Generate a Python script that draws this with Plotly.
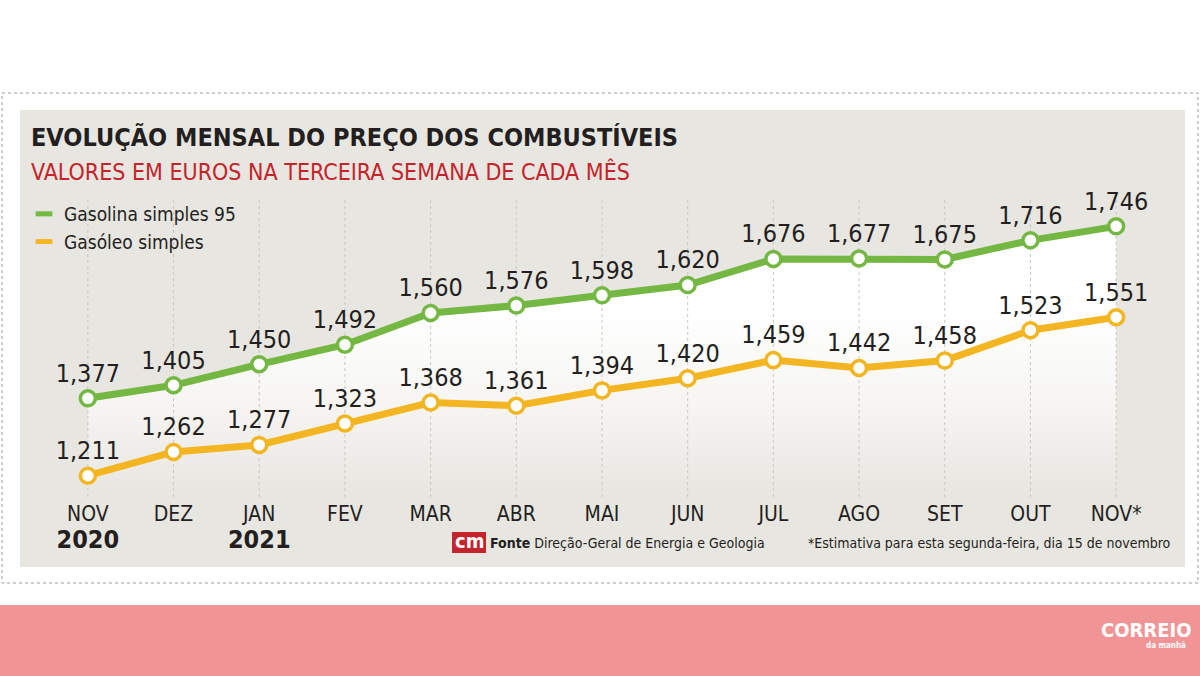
import plotly.graph_objects as go

# ---- data ----
periods = ["2020-11", "2020-12", "2021-01", "2021-02", "2021-03", "2021-04", "2021-05",
           "2021-06", "2021-07", "2021-08", "2021-09", "2021-10", "2021-11"]
month_labels = ["NOV", "DEZ", "JAN", "FEV", "MAR", "ABR", "MAI", "JUN", "JUL", "AGO", "SET", "OUT", "NOV*"]
year_labels = ["2020", "", "2021", "", "", "", "", "", "", "", "", "", ""]
gasolina = [1.377, 1.405, 1.450, 1.492, 1.560, 1.576, 1.598, 1.620, 1.676, 1.677, 1.675, 1.716, 1.746]
gasoleo = [1.211, 1.262, 1.277, 1.323, 1.368, 1.361, 1.394, 1.420, 1.459, 1.442, 1.458, 1.523, 1.551]
series_names = ["Gasolina simples 95", "Gasóleo simples"]

W, H = 1200, 676
GREEN = "#74b843"
ORANGE = "#f3b522"
PANEL = "#e8e6e1"
DARK = "#231f20"
RED = "#c4242b"
PINK = "#f09496"
FONT = "DejaVu Sans Condensed, Liberation Sans Narrow, Roboto, sans-serif"
Y_RANGE = [1.1653, 1.8025]


def px(x):
    return x / W


def py(y):
    return 1 - y / H


def fmt(v):
    return f"{v:.3f}".replace(".", ",")


ticktext = []
for m, yr in zip(month_labels, year_labels):
    if yr:
        ticktext.append(f"{m}<br><span style='font-size:25px'><b>{yr}</b></span>")
    else:
        ticktext.append(m)

fig = go.Figure()

# gradient fill under the petrol line
fig.add_trace(go.Scatter(
    x=periods, y=gasolina, mode="lines", line=dict(width=0, color="rgba(0,0,0,0)"),
    fill="tozeroy",
    fillgradient=dict(type="vertical",
                      colorscale=[[0, PANEL], [0.5, "#f6f5f2"], [1, "#ffffff"]],
                      start=1.17, stop=1.56),
    hoverinfo="skip", showlegend=False,
))

# dotted vertical guides at every category
gx, gy = [], []
for p in periods:
    gx += [p, p, None]
    gy += [Y_RANGE[0], Y_RANGE[1], None]
fig.add_trace(go.Scatter(
    x=gx, y=gy, mode="lines", line=dict(color="#c9c7c2", width=1, dash="dot"),
    hoverinfo="skip", showlegend=False,
))

for vals, color, name in [(gasoleo, ORANGE, series_names[1]), (gasolina, GREEN, series_names[0])]:
    fig.add_trace(go.Scatter(
        x=periods, y=vals, mode="lines+markers+text",
        line=dict(color=color, width=7),
        marker=dict(size=15, color="white", line=dict(color=color, width=3.5)),
        text=[fmt(v) for v in vals], textposition="top center",
        textfont=dict(family=FONT, size=25, color=DARK),
        cliponaxis=False,
        name=name, showlegend=False,
    ))

# legend entries
for name, color in zip(series_names, [GREEN, ORANGE]):
    fig.add_trace(go.Scatter(
        x=[None], y=[None], mode="markers", name=name,
        marker=dict(symbol="line-ew", size=12, color=color, line=dict(color=color, width=8)),
    ))

shapes = [
    # dotted frame
    dict(type="rect", xref="paper", yref="paper", x0=px(2), x1=px(1198), y0=py(93), y1=py(583),
         line=dict(color="#9a9a9a", width=1, dash="dot"), layer="below"),
    # grey panel
    dict(type="rect", xref="paper", yref="paper", x0=px(20), x1=px(1185), y0=py(110), y1=py(567),
         fillcolor=PANEL, line=dict(width=0), layer="below"),
    # pink band
    dict(type="rect", xref="paper", yref="paper", x0=0, x1=1, y0=py(676), y1=py(605),
         fillcolor=PINK, line=dict(width=0), layer="below"),
    # cm logo box
    dict(type="rect", xref="paper", yref="paper", x0=px(452), x1=px(486), y0=py(553), y1=py(532),
         fillcolor=RED, line=dict(width=0), layer="above"),
]


def ann(text, x, y, size, color=DARK, xanchor="left"):
    return dict(text=text, x=px(x), y=py(y), xref="paper", yref="paper",
                xanchor=xanchor, yanchor="middle", showarrow=False,
                font=dict(family=FONT, size=size, color=color))


annotations = [
    ann("<b>EVOLUÇÃO MENSAL DO PREÇO DOS COMBUSTÍVEIS</b>", 29, 137, 25),
    ann("VALORES EM EUROS NA TERCEIRA SEMANA DE CADA MÊS", 29, 172, 23, RED),
    ann("<b>cm</b>", 469, 541, 20, "white", "center"),
    ann("<b>Fonte</b> Direção-Geral de Energia e Geologia", 488, 543, 14),
    ann("*Estimativa para esta segunda-feira, dia 15 de novembro", 1173, 543, 14, xanchor="right"),
    ann("<b>CORREIO</b>", 1146, 630, 20, "white", "center"),
    ann("<b>da manhã</b>", 1188, 645, 8, "white", "right"),
]

fig.update_layout(
    width=W, height=H,
    margin=dict(l=0, r=0, t=0, b=0),
    paper_bgcolor="white", plot_bgcolor="rgba(0,0,0,0)",
    font=dict(family=FONT, color=DARK),
    shapes=shapes, annotations=annotations,
    showlegend=True,
    legend=dict(x=px(24), y=py(195), xanchor="left", yanchor="top",
                bgcolor="rgba(0,0,0,0)", font=dict(family=FONT, size=19, color=DARK),
                itemsizing="trace", tracegroupgap=3),
    xaxis=dict(domain=[px(45), px(1159)], range=[-0.5, 12.5], type="category",
               tickvals=periods, ticktext=ticktext, showgrid=False, zeroline=False,
               showline=False, ticks="", tickfont=dict(family=FONT, size=21, color=DARK),
               ticklabelstandoff=2),
    yaxis=dict(domain=[py(497), py(200)], range=Y_RANGE, visible=False, fixedrange=True),
    hovermode=False,
)

fig.write_html("out.html", config={"displayModeBar": False},
               post_script="document.body.style.margin='0';")
